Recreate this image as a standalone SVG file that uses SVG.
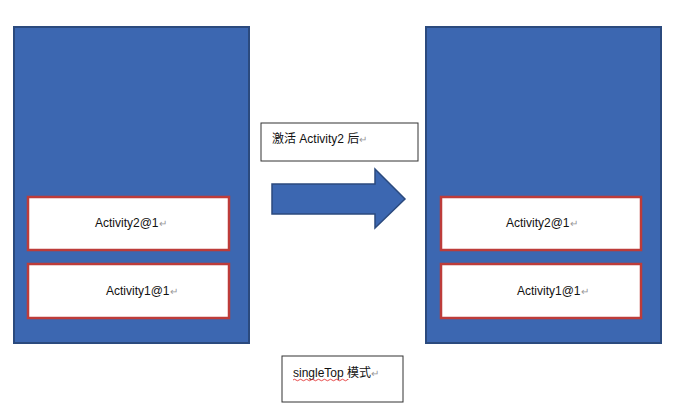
<svg xmlns="http://www.w3.org/2000/svg" width="679" height="412" viewBox="0 0 679 412">
<style>
.panel{fill:#3c67b1;stroke:#2b4a7e;stroke-width:2}
.act{fill:#fff;stroke:#bd3c3a;stroke-width:2.5}
.lbl{fill:#fff;stroke:#333;stroke-width:1}
.t{font-family:"Liberation Sans","Noto Sans CJK SC",sans-serif;font-size:12px;fill:#111}
.pm{fill:#999;font-size:10px}
</style>
<rect width="679" height="412" fill="#fff"/>
<g id="left-stack">
<rect class="panel" x="14" y="27" width="235" height="316"/>
<g id="left-activity2"><rect class="act" x="28" y="197" width="201" height="53"/><text class="t" x="95" y="227">Activity2@1<tspan class="pm">↵</tspan></text></g>
<g id="left-activity1"><rect class="act" x="28" y="264" width="201" height="54"/><text class="t" x="106" y="295">Activity1@1<tspan class="pm">↵</tspan></text></g>
</g>
<g id="right-stack">
<rect class="panel" x="426" y="27" width="235" height="316"/>
<g id="right-activity2"><rect class="act" x="441" y="197" width="200" height="53"/><text class="t" x="506" y="227">Activity2@1<tspan class="pm">↵</tspan></text></g>
<g id="right-activity1"><rect class="act" x="441" y="264" width="200" height="54"/><text class="t" x="517" y="295">Activity1@1<tspan class="pm">↵</tspan></text></g>
</g>
<g id="label-activate">
<rect class="lbl" x="261" y="123" width="157" height="38"/>
<text class="t" x="272" y="143">激活 Activity2 后<tspan class="pm">↵</tspan></text>
</g>
<g id="connectors">
<path d="M272,184 H375 V169 L405,199 L375,228 V214 H272 Z" fill="#3c67b1" stroke="#2b4a7e" stroke-width="1.5"/>
</g>
<g id="label-mode">
<rect class="lbl" x="282" y="356" width="121" height="46"/>
<text class="t" x="293" y="377">singleTop 模式<tspan class="pm">↵</tspan></text>
<path d="M293,380 q1.5,-1.5 3,0 t3,0 t3,0 t3,0 t3,0 t3,0 t3,0 t3,0 t3,0 t3,0 t3,0 t3,0 t3,0 t3,0 t3,0 t3,0 t3,0 t3,0 t1,0" fill="none" stroke="#e02020" stroke-width="0.8"/>
</g>
</svg>
